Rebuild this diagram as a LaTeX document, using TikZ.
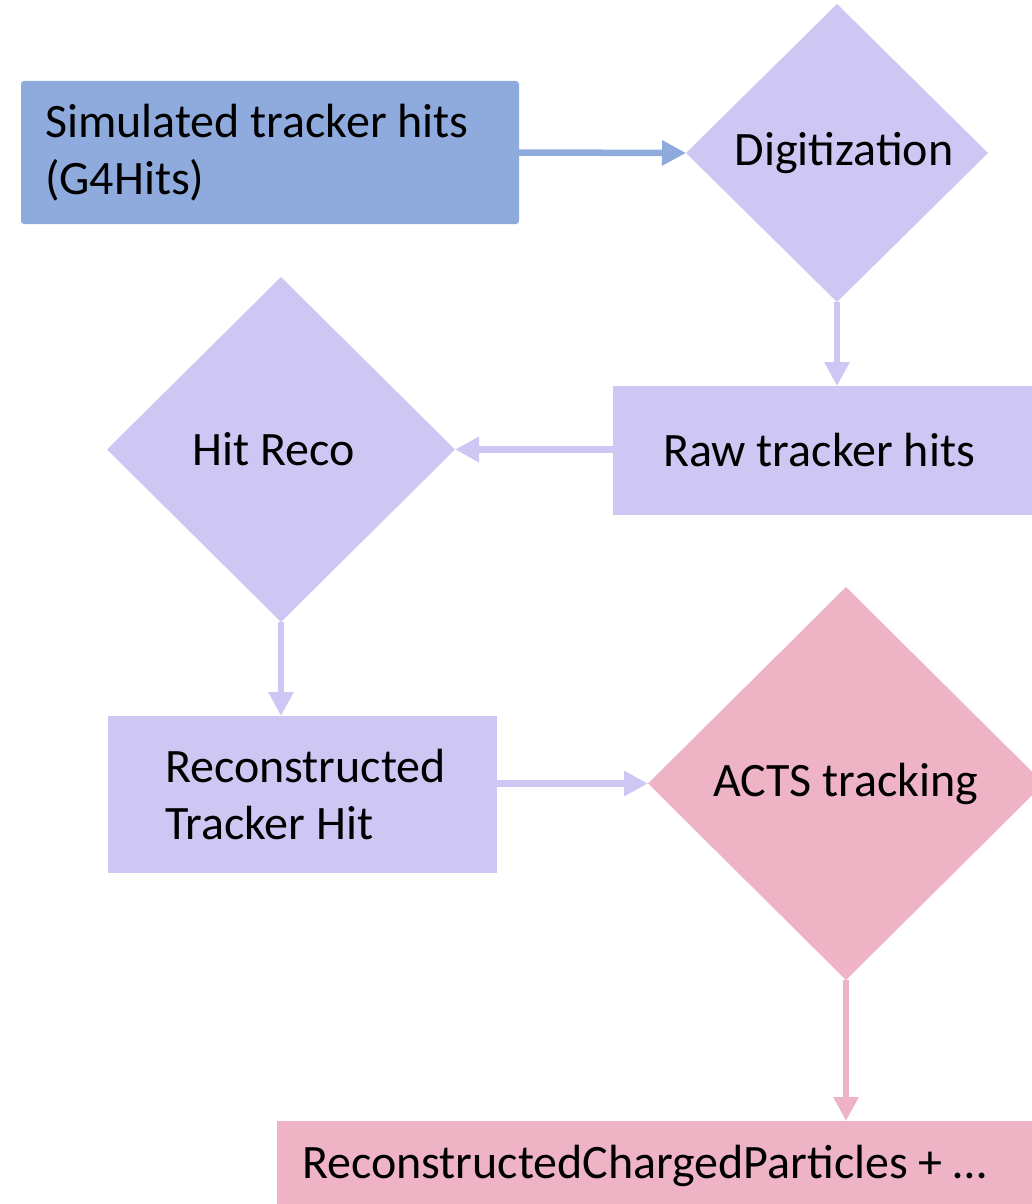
\documentclass[tikz,border=0pt]{standalone}
\usepackage{fontspec}
\setmainfont{Carlito}
\usetikzlibrary{shapes.geometric,arrows.meta}

\definecolor{simblue}{HTML}{8FAADC}
\definecolor{lavender}{HTML}{CFC7F3}
\definecolor{rosepink}{HTML}{EEB4C6}

\tikzset{
  labelfont/.style={font=\fontsize{48}{57}\selectfont, text=black},
  procbox/.style={rectangle, labelfont, inner ysep=0pt, outer sep=0pt, align=flush left, anchor=north west},
  decision/.style={diamond, labelfont, inner sep=0pt, outer sep=0pt, aspect=1},
  flow/.style={line width=6.5pt, -{Triangle[length=24pt,width=24pt]}},
}

\begin{document}
\begin{tikzpicture}[x=1pt, y={(0pt,-1pt)}]
  \useasboundingbox (0,0) rectangle (1032,1204);
  \clip (0,0) rectangle (1032,1204);

  % data products (boxes) and processing steps (diamonds)
  \node[procbox, fill=simblue, rounded corners=3pt, inner xsep=24pt, text width=450pt,
        minimum height=143pt] (sim) at (21,81) {Simulated tracker hits\\(G4Hits)};

  \node[decision, fill=lavender, minimum width=302pt, minimum height=298pt]
        (digi) at (837,153) {\hspace*{14pt}Digitization};

  \node[procbox, fill=lavender, inner xsep=50pt, text width=327pt,
        minimum height=129pt] (raw) at (613,386) {Raw tracker hits};

  \node[decision, fill=lavender, minimum width=348pt, minimum height=345pt]
        (hitreco) at (281,449.5) {Hit Reco\hspace*{14pt}};

  \node[procbox, fill=lavender, inner xsep=57pt, text width=275pt,
        minimum height=157pt] (reco) at (108,716) {Reconstructed\\Tracker Hit};

  \node[decision, fill=rosepink, minimum width=396pt, minimum height=393pt]
        (acts) at (846,783.5) {ACTS tracking};

  \node[procbox, fill=rosepink, inner xsep=25pt, text width=713pt,
        minimum height=90pt] (particles) at (277,1121) {ReconstructedChargedParticles + …};

  % connectors
  \draw[flow, simblue] (sim.east) -- (digi.west);
  \draw[flow, lavender] (digi.south) -- (digi.south |- raw.north);
  \draw[flow, lavender] (raw.west |- hitreco.east) -- (hitreco.east);
  \draw[flow, lavender] (hitreco.south) -- (hitreco.south |- reco.north);
  \draw[flow, lavender] (reco.east |- acts.west) -- (acts.west);
  \draw[flow, rosepink] (acts.south) -- (acts.south |- particles.north);
\end{tikzpicture}
\end{document}
